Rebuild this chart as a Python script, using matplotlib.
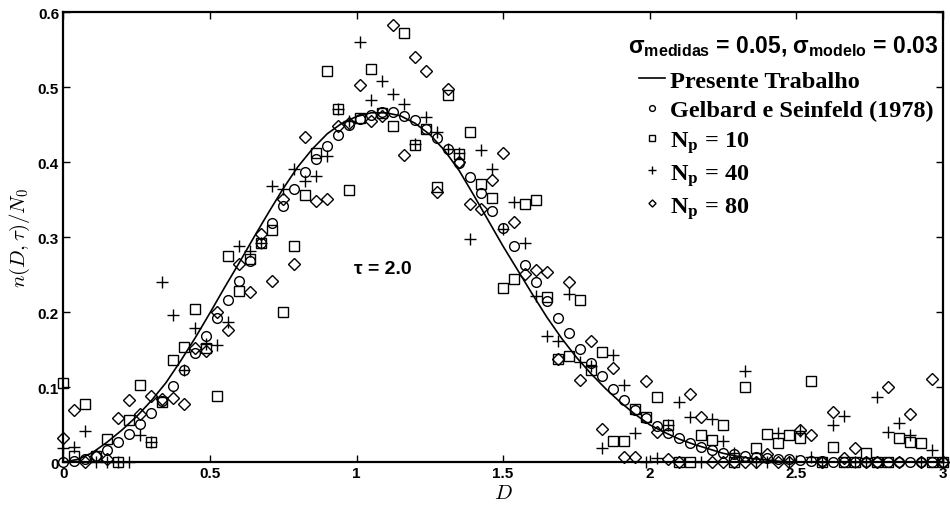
import matplotlib

matplotlib.use("Agg")
import matplotlib.pyplot as plt
import numpy as np
from matplotlib.font_manager import FontProperties

plt.rcParams["font.family"] = "Liberation Sans"
plt.rcParams["mathtext.fontset"] = "custom"
plt.rcParams["mathtext.rm"] = "Liberation Sans:bold"
plt.rcParams["mathtext.bf"] = "Liberation Sans:bold"
plt.rcParams["mathtext.it"] = "Liberation Sans:bold"

# diameters where the discrete solutions are given (81 points, 0 .. 3)
D = np.linspace(0, 3, 81)

# Presente Trabalho, read every 0.05 from the picture
D_curve = np.linspace(0, 3, 61)
n_curve = [0.000, 0.004, 0.013, 0.027, 0.043, 0.061, 0.082, 0.106, 0.135, 0.166,
           0.199, 0.233, 0.266, 0.300, 0.333, 0.365, 0.394, 0.418, 0.438, 0.452,
           0.461, 0.466, 0.466, 0.462, 0.452, 0.437, 0.416, 0.389, 0.356, 0.322,
           0.288, 0.256, 0.224, 0.193, 0.165, 0.140, 0.118, 0.098, 0.080, 0.064,
           0.050, 0.040, 0.031, 0.024, 0.018, 0.012, 0.008, 0.005, 0.003, 0.001,
           0.000, 0.000, 0.000, 0.000, 0.000, 0.000, 0.000, 0.000, 0.000, 0.000,
           0.000]

# Gelbard e Seinfeld (1978)
n_gelbard = [0.000, 0.002, 0.005, 0.009, 0.016, 0.027, 0.038, 0.051, 0.066, 0.082,
             0.102, 0.123, 0.146, 0.168, 0.192, 0.217, 0.242, 0.268, 0.293, 0.319,
             0.342, 0.364, 0.387, 0.405, 0.422, 0.437, 0.450, 0.458, 0.463, 0.467,
             0.467, 0.462, 0.456, 0.445, 0.433, 0.418, 0.399, 0.380, 0.359, 0.335,
             0.312, 0.288, 0.263, 0.240, 0.215, 0.193, 0.172, 0.151, 0.132, 0.115,
             0.098, 0.083, 0.070, 0.059, 0.048, 0.039, 0.032, 0.026, 0.020, 0.016,
             0.013, 0.011, 0.009, 0.007, 0.006, 0.005, 0.004, 0.003, 0.002, 0.002,
             0.001, 0.001, 0.001, 0.001, 0.000, 0.000, 0.000, 0.000, 0.000, 0.000,
             0.000]

# Np = 10
n_np10 = [0.106, 0.009, 0.078, 0.009, 0.031, 0.000, 0.057, 0.103, 0.027, 0.080,
          0.137, 0.154, 0.204, 0.153, 0.088, 0.275, 0.228, 0.271, 0.293, 0.310,
          0.200, 0.289, 0.357, 0.413, 0.522, 0.471, 0.363, 0.459, 0.525, 0.466,
          0.448, 0.572, 0.423, 0.445, 0.367, 0.490, 0.411, 0.441, 0.371, 0.352,
          0.232, 0.244, 0.345, 0.350, 0.221, 0.138, 0.142, 0.216, 0.123, 0.147,
          0.029, 0.029, 0.071, 0.061, 0.087, 0.050, 0.000, 0.000, 0.036, 0.030,
          0.050, 0.000, 0.100, 0.019, 0.038, 0.026, 0.036, 0.032, 0.108, 0.000,
          0.021, 0.000, 0.000, 0.013, 0.000, 0.000, 0.032, 0.027, 0.026, 0.000,
          0.000]

# Np = 40
n_np40 = [0.019, 0.021, 0.042, 0.000, 0.000, 0.000, 0.000, 0.037, 0.027, 0.240,
          0.196, 0.123, 0.179, 0.158, 0.156, 0.187, 0.288, 0.282, 0.293, 0.369,
          0.364, 0.391, 0.375, 0.382, 0.408, 0.471, 0.455, 0.560, 0.483, 0.509,
          0.491, 0.478, 0.424, 0.461, 0.440, 0.418, 0.412, 0.298, 0.416, 0.391,
          0.311, 0.347, 0.292, 0.222, 0.169, 0.162, 0.224, 0.134, 0.128, 0.019,
          0.143, 0.103, 0.039, 0.000, 0.006, 0.050, 0.080, 0.061, 0.000, 0.058,
          0.029, 0.013, 0.122, 0.000, 0.000, 0.039, 0.000, 0.042, 0.007, 0.000,
          0.050, 0.062, 0.000, 0.000, 0.087, 0.040, 0.052, 0.036, 0.000, 0.016,
          0.000]

# Np = 80
n_np80 = [0.032, 0.070, 0.000, 0.008, 0.004, 0.059, 0.083, 0.065, 0.089, 0.085,
          0.086, 0.078, 0.152, 0.148, 0.200, 0.176, 0.264, 0.227, 0.304, 0.242,
          0.351, 0.264, 0.434, 0.349, 0.351, 0.448, 0.452, 0.503, 0.455, 0.462,
          0.583, 0.410, 0.541, 0.522, 0.360, 0.498, 0.400, 0.344, 0.338, 0.376,
          0.412, 0.321, 0.251, 0.257, 0.254, 0.138, 0.241, 0.110, 0.162, 0.045,
          0.126, 0.007, 0.007, 0.108, 0.041, 0.004, 0.000, 0.091, 0.060, 0.000,
          0.000, 0.000, 0.000, 0.000, 0.011, 0.000, 0.000, 0.043, 0.036, 0.000,
          0.067, 0.006, 0.019, 0.000, 0.000, 0.101, 0.000, 0.064, 0.000, 0.111,
          0.000]

x_ticks = [0, 0.5, 1, 1.5, 2, 2.5, 3]
x_ticklabels = ["0", "0.5", "1", "1.5", "2", "2.5", "3"]
y_ticks = [0, 0.1, 0.2, 0.3, 0.4, 0.5, 0.6]
y_ticklabels = ["0", "0.1", "0.2", "0.3", "0.4", "0.5", "0.6"]

labels = [
    "Presente Trabalho",
    "Gelbard e Seinfeld (1978)",
    r"N$_{\mathbf{p}}$ = 10",
    r"N$_{\mathbf{p}}$ = 40",
    r"N$_{\mathbf{p}}$ = 80",
]
legend_title = r"σ$_{\mathrm{medidas}}$ = 0.05, σ$_{\mathrm{modelo}}$ = 0.03"


def main():
    fig = plt.figure(figsize=(9.5, 5.06), dpi=100)
    ax = fig.add_axes([0.0666, 0.0844, 0.926, 0.8893])

    ax.plot(D_curve, n_curve, color="black", lw=1.2, label=labels[0])
    mk = dict(ls="none", mfc="none", mec="black", mew=1.0, color="black",
              clip_on=False)
    ax.plot(D, n_gelbard, marker="o", ms=7, label=labels[1], **mk)
    ax.plot(D, n_np10, marker="s", ms=6.5, label=labels[2], **mk)
    ax.plot(D, n_np40, marker="+", ms=9, label=labels[3], **mk)
    ax.plot(D, n_np80, marker="D", ms=6, label=labels[4], **mk)

    ax.set_xlim(0, 3)
    ax.set_ylim(0, 0.6)
    ax.set_xticks(x_ticks)
    ax.set_xticklabels(x_ticklabels)
    ax.set_yticks(y_ticks)
    ax.set_yticklabels(y_ticklabels)
    ax.tick_params(direction="in", top=True, right=True, length=5, width=1,
                   labelsize=11, pad=3)
    for t in ax.get_xticklabels() + ax.get_yticklabels():
        t.set_fontweight("bold")
    for s in ax.spines.values():
        s.set_linewidth(1.6)

    ax.set_xlabel(r"$D$", fontsize=15, math_fontfamily="cm", labelpad=2)
    ax.set_ylabel(r"$n(D,\tau)/N_0$", fontsize=15, math_fontfamily="cm",
                  labelpad=4)

    ax.text(0.99, 0.258, "τ = 2.0", fontsize=14, fontweight="bold",
            va="center", ha="left")

    # legend heading (sigma values) sits above the entries
    ax.text(0.9945, 0.926, legend_title, transform=ax.transAxes, ha="right",
            va="center", fontsize=16.5, fontweight="bold")

    ax.legend(
        loc="upper right",
        bbox_to_anchor=(0.9895, 0.872),
        frameon=False,
        prop=FontProperties(family="Liberation Serif", weight="bold", size=17.5,
                            math_fontfamily="stix"),
        handlelength=1.1,
        handletextpad=0.2,
        labelspacing=0.31,
        markerscale=0.6,
        borderaxespad=0,
        borderpad=0,
    )

    fig.savefig("out.png", dpi=100)


if __name__ == "__main__":
    main()
